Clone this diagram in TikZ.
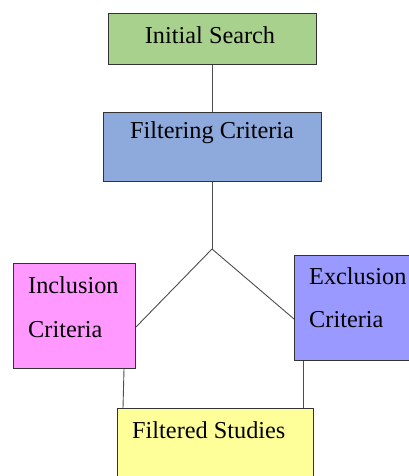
\documentclass[tikz,border=0pt]{standalone}
\usepackage{fontspec}
\setmainfont{Liberation Serif}
\begin{document}
\begin{tikzpicture}[x=1pt,y=-1pt,
  box/.style={draw=black!80, line width=1pt, inner sep=0pt, anchor=north west},
  lbl/.style={inner sep=0pt, font=\fontsize{24.3}{28}\selectfont, text=black},
  conn/.style={draw=black!70, line width=0.9pt}]
\useasboundingbox (0,0) rectangle (409,476);
\clip (0,0) rectangle (409,476);
\definecolor{cgreen}{HTML}{A9D18E}
\definecolor{cblue}{HTML}{8EA9DB}
\definecolor{cpink}{HTML}{FF99FF}
\definecolor{cviolet}{HTML}{9999FF}
\definecolor{cyellow}{HTML}{FFFF99}
% boxes
\node[box, fill=cgreen, minimum width=208pt, minimum height=51pt] (is) at (108,13) {};
\node[box, fill=cblue, minimum width=218pt, minimum height=69pt] (fc) at (103,112) {};
\node[box, fill=cpink, minimum width=122pt, minimum height=105pt] (ic) at (13,263) {};
\node[box, fill=cviolet, minimum width=130pt, minimum height=105pt] (ec) at (294,255) {};
\node[box, fill=cyellow, minimum width=196pt, minimum height=90pt] (fs) at (117,408) {};
% texts
\node[lbl] (ist) at (210,35) {Initial Search};
\node[lbl] (fct) at (212,133) {Filtering Criteria};
\node[lbl, anchor=west] (ict1) at (28,285) {Inclusion};
\node[lbl, anchor=west] (ict2) at (28,330) {Criteria};
\node[lbl, anchor=west] (ect1) at (309,276) {Exclusion};
\node[lbl, anchor=west] (ect2) at (309,320) {Criteria};
\node[lbl, anchor=west] (fst) at (132,430) {Filtered Studies};
% connectors
\coordinate (j) at (212,249);
\draw[conn] (is.south) -- (fc.north);
\draw[conn] (fc.south -| j) -- (j);
\draw[conn] (j) -- (ic.east |- 0,327);
\draw[conn] (j) -- (ec.west |- 0,319);
\draw[conn] (ic.south -| 124,0) -- (fs.north -| 123,0);
\draw[conn] (ec.south -| 303,0) -- (fs.north -| 303,0);
\end{tikzpicture}
\end{document}
